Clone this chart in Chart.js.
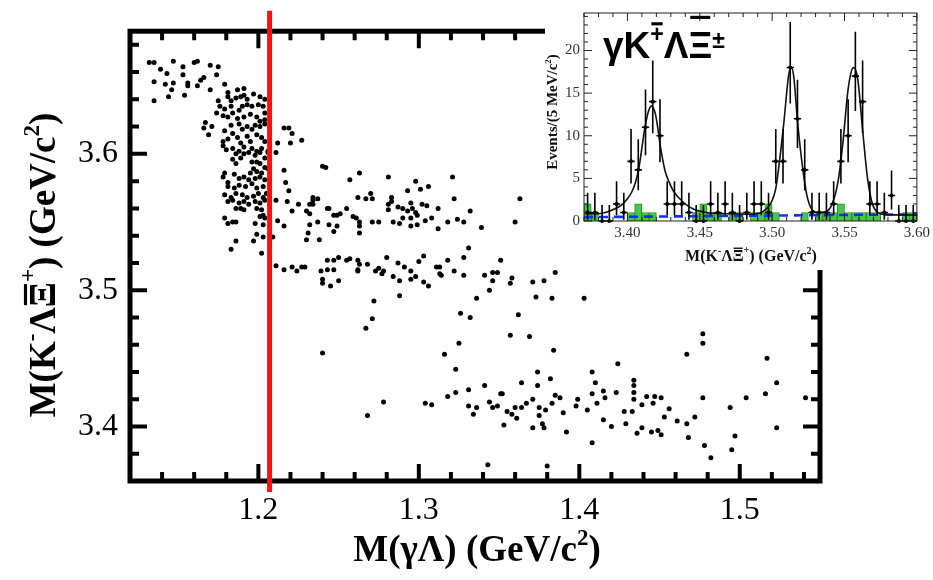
<!DOCTYPE html>
<html>
<head>
<meta charset="utf-8">
<script src="https://cdn.jsdelivr.net/npm/chart.js@4.4.0/dist/chart.umd.min.js"></script>
<style>
  body { margin: 0; background: #fff; }
  #wrap { position: relative; width: 933px; height: 580px; overflow: hidden; }
  #main { position: absolute; left: 0; top: 0; }
  #inset { position: absolute; left: 545px; top: 0; background: #fff; }
</style>
</head>
<body>
<div id="wrap">
  <canvas id="main" width="933" height="580"></canvas>
  <canvas id="inset" width="388" height="270"></canvas>
</div>
<script>
// ---- main scatter: M(gamma Lambda) vs M(K- Lambda Xibar+) ----
const xTickValues = [1.2, 1.3, 1.4, 1.5];
const xTickLabels = ['1.2', '1.3', '1.4', '1.5'];
const yTickValues = [3.4, 3.5, 3.6];
const yTickLabels = ['3.4', '3.5', '3.6'];
const cutValue = 1.207;   // red vertical cut line

const topArc = [[1.132,3.667],[1.135,3.667],[1.147,3.668],[1.139,3.662],[1.143,3.659],[1.153,3.664],[1.160,3.667],[1.162,3.668],[1.170,3.665],[1.175,3.664],[1.135,3.653],[1.142,3.651],[1.147,3.652],[1.153,3.658],[1.156,3.652],[1.156,3.650],[1.146,3.647],[1.144,3.642],[1.135,3.639],[1.154,3.643],[1.162,3.650],[1.164,3.654],[1.166,3.656],[1.170,3.647],[1.174,3.658],[1.179,3.651],[1.181,3.645],[1.187,3.647],[1.191,3.648]];

const cluster = [[1.175,3.639],[1.181,3.642],[1.183,3.639],[1.186,3.641],[1.189,3.642],[1.191,3.643],[1.193,3.640],[1.197,3.644],[1.201,3.642],[1.204,3.640],
[1.176,3.635],[1.174,3.630],[1.179,3.633],[1.183,3.635],[1.184,3.630],[1.188,3.632],[1.190,3.635],[1.193,3.636],[1.196,3.635],[1.200,3.636],[1.203,3.635],[1.204,3.630],
[1.178,3.628],[1.181,3.627],[1.187,3.626],[1.191,3.627],[1.195,3.629],[1.199,3.627],[1.201,3.624],[1.204,3.625],
[1.167,3.623],[1.166,3.619],[1.171,3.620],[1.169,3.614],[1.179,3.617],[1.183,3.621],[1.184,3.615],[1.188,3.622],[1.190,3.618],[1.193,3.620],[1.196,3.618],[1.198,3.621],[1.201,3.620],[1.204,3.622],
[1.178,3.609],[1.181,3.611],[1.187,3.612],[1.189,3.608],[1.193,3.613],[1.195,3.609],[1.199,3.614],[1.202,3.612],[1.204,3.609],
[1.178,3.606],[1.180,3.603],[1.184,3.604],[1.188,3.602],[1.191,3.605],[1.196,3.604],[1.199,3.602],[1.202,3.604],[1.206,3.602],
[1.186,3.600],[1.191,3.600],[1.194,3.601],[1.198,3.599],[1.201,3.601],[1.204,3.597],[1.184,3.596],[1.189,3.597],[1.186,3.593],[1.196,3.594],[1.199,3.594],[1.201,3.593],[1.204,3.590],[1.197,3.589],[1.199,3.587],[1.195,3.586],[1.202,3.586],[1.206,3.589],
[1.179,3.586],[1.178,3.583],[1.181,3.579],[1.185,3.585],[1.188,3.582],[1.191,3.583],[1.194,3.581],[1.198,3.582],[1.201,3.583],[1.204,3.581],
[1.181,3.576],[1.185,3.575],[1.188,3.577],[1.192,3.576],[1.196,3.578],[1.199,3.575],[1.203,3.576],
[1.179,3.570],[1.183,3.568],[1.186,3.571],[1.190,3.570],[1.193,3.568],[1.197,3.569],[1.200,3.571],[1.203,3.568],[1.205,3.571],
[1.181,3.565],[1.184,3.566],[1.188,3.564],[1.191,3.565],[1.194,3.563],[1.198,3.565],[1.201,3.564],[1.204,3.566],
[1.186,3.560],[1.189,3.560],[1.191,3.559],[1.199,3.560],[1.202,3.559],[1.203,3.555],[1.201,3.554],[1.204,3.553],[1.179,3.553],[1.181,3.549],[1.184,3.550],[1.186,3.550],[1.198,3.549],[1.203,3.548],[1.199,3.541],[1.186,3.536],[1.197,3.536],[1.203,3.539],[1.183,3.530],[1.202,3.527],
[1.216,3.619],[1.219,3.619],[1.221,3.615],[1.227,3.610],[1.220,3.608],[1.212,3.608],[1.211,3.601],[1.206,3.601],[1.216,3.588],[1.217,3.579],[1.219,3.573],[1.218,3.565],[1.211,3.566],[1.221,3.558],[1.225,3.563],[1.212,3.551],[1.216,3.547],[1.209,3.539]];

const upperBand = [[1.240,3.591],[1.242,3.590],[1.263,3.586],[1.257,3.581],[1.281,3.583],[1.321,3.583],[1.298,3.580],[1.293,3.573],[1.301,3.574],[1.306,3.576],[1.270,3.571],[1.262,3.568],[1.267,3.567],[1.271,3.567],[1.283,3.568],[1.283,3.565],[1.281,3.563],[1.234,3.568],[1.234,3.566],[1.237,3.567],[1.232,3.563],[1.234,3.563],[1.322,3.567],[1.243,3.560],[1.244,3.560],[1.255,3.560],[1.251,3.556],[1.249,3.555],[1.247,3.555],[1.287,3.561],[1.290,3.560],[1.295,3.564],[1.296,3.560],[1.293,3.558],[1.302,3.563],[1.305,3.562],[1.312,3.560],[1.281,3.559],[1.230,3.558],[1.232,3.556],[1.259,3.554],[1.261,3.553],[1.298,3.557],[1.299,3.555],[1.295,3.553],[1.290,3.553],[1.308,3.553],[1.304,3.551],[1.332,3.558],[1.324,3.552],[1.328,3.550],[1.318,3.550],[1.232,3.548],[1.237,3.550],[1.244,3.548],[1.249,3.547],[1.247,3.543],[1.263,3.550],[1.263,3.547],[1.271,3.550],[1.275,3.550],[1.284,3.550],[1.288,3.549],[1.295,3.547],[1.299,3.548],[1.312,3.545],[1.339,3.546],[1.363,3.567],[1.360,3.550],[1.263,3.542],[1.231,3.542],[1.230,3.537],[1.238,3.537]];

const lowerBand = [[1.211,3.518],[1.216,3.515],[1.221,3.517],[1.224,3.514],[1.229,3.517],[1.227,3.517],[1.243,3.522],[1.247,3.522],[1.250,3.524],[1.255,3.522],[1.257,3.523],[1.262,3.522],[1.263,3.519],[1.268,3.519],[1.280,3.524],[1.287,3.520],[1.291,3.517],[1.300,3.521],[1.303,3.525],[1.311,3.517],[1.313,3.517],[1.318,3.522],[1.328,3.524],[1.331,3.531],[1.239,3.514],[1.243,3.515],[1.247,3.515],[1.262,3.515],[1.262,3.514],[1.273,3.514],[1.275,3.516],[1.278,3.514],[1.277,3.512],[1.284,3.510],[1.288,3.507],[1.295,3.514],[1.298,3.510],[1.295,3.508],[1.313,3.512],[1.314,3.511],[1.322,3.514],[1.328,3.511],[1.303,3.506],[1.306,3.503],[1.240,3.508],[1.240,3.505],[1.245,3.503],[1.250,3.507],[1.341,3.511],[1.346,3.513],[1.349,3.513],[1.346,3.507],[1.351,3.522],[1.358,3.509],[1.357,3.505],[1.371,3.506],[1.378,3.507],[1.385,3.513],[1.344,3.500],[1.336,3.494],[1.373,3.495],[1.383,3.494],[1.272,3.492],[1.288,3.496]];

const scattered = [[1.403,3.494],[1.326,3.483],[1.332,3.480],[1.362,3.482],[1.325,3.461],[1.357,3.467],[1.369,3.466],[1.384,3.456],[1.316,3.453],[1.323,3.442],[1.424,3.446],[1.467,3.453],[1.477,3.468],[1.477,3.461],[1.517,3.450],[1.523,3.432],[1.271,3.479],[1.267,3.472],[1.240,3.454],[1.268,3.408],[1.278,3.418],[1.308,3.416]];

const lowBand = [[1.304,3.417],[1.318,3.422],[1.323,3.425],[1.331,3.427],[1.331,3.415],[1.334,3.409],[1.336,3.414],[1.341,3.430],[1.344,3.418],[1.346,3.414],[1.349,3.415],[1.351,3.424],[1.352,3.424],[1.353,3.401],[1.355,3.411],[1.358,3.409],[1.360,3.414],[1.361,3.406],[1.364,3.414],[1.364,3.432],[1.367,3.417],[1.371,3.420],[1.371,3.399],[1.374,3.440],[1.374,3.430],[1.375,3.414],[1.375,3.408],[1.377,3.402],[1.378,3.399],[1.379,3.412],[1.382,3.435],[1.383,3.417],[1.385,3.423],[1.388,3.421],[1.390,3.410],[1.392,3.396],[1.398,3.415],[1.399,3.420],[1.405,3.412],[1.408,3.424],[1.408,3.388],[1.408,3.440],[1.410,3.432],[1.411,3.417],[1.415,3.405],[1.415,3.426],[1.416,3.421],[1.420,3.400],[1.423,3.425],[1.428,3.411],[1.429,3.402],[1.433,3.411],[1.434,3.434],[1.434,3.430],[1.434,3.425],[1.434,3.420],[1.436,3.395],[1.439,3.399],[1.439,3.416],[1.442,3.422],[1.445,3.396],[1.446,3.417],[1.447,3.422],[1.449,3.397],[1.451,3.421],[1.451,3.394],[1.453,3.407],[1.456,3.413],[1.461,3.404],[1.467,3.402],[1.468,3.392],[1.472,3.407],[1.477,3.421],[1.478,3.386],[1.482,3.377],[1.494,3.414],[1.495,3.383],[1.497,3.393],[1.504,3.421],[1.516,3.424],[1.523,3.399],[1.541,3.421],[1.343,3.372],[1.380,3.371]];

// ---- inset: M(K- Lambda Xibar+) distribution ----
const binCenters = [3.3725,3.3775,3.3825,3.3875,3.3925,3.3975,3.4025,3.4075,3.4125,3.4175,3.4225,3.4275,3.4325,3.4375,3.4425,3.4475,3.4525,3.4575,3.4625,3.4675,3.4725,3.4775,3.4825,3.4875,3.4925,3.4975,3.5025,3.5075,3.5125,3.5175,3.5225,3.5275,3.5325,3.5375,3.5425,3.5475,3.5525,3.5575,3.5625,3.5675,3.5725,3.5775,3.5825,3.5875,3.5925,3.5975];
const dataCounts = [1,1,0,0,2,1,7,6,11,14,10,2,2,2,1,0,0,2,1,2,1,0,1,2,2,1,7,7,18,12,6,1,1,1,2,7,10,17,14,2,2,1,3,0,0,0];
const bkgCounts  = [2,1,0,0,0,0,1,2,1,1,0,0,0,0,0,1,2,1,1,0,1,1,0,1,1,2,1,0,0,0,1,0,1,1,1,2,1,1,1,1,1,0,0,0,1,1];
const fitX = [3.371,3.380,3.386,3.391,3.396,3.400,3.403,3.4057,3.408,3.4102,3.412,3.4141,3.4155,3.4168,3.418,3.4193,3.421,3.4227,3.4245,3.4261,3.429,3.4318,3.4386,3.4455,3.4545,3.470,3.485,3.4932,3.497,3.500,3.5025,3.5045,3.508,3.5114,3.513,3.5148,3.5177,3.5211,3.5239,3.5273,3.5318,3.5364,3.5409,3.5455,3.5489,3.5523,3.5545,3.5561,3.5591,3.5625,3.5659,3.5693,3.5727,3.5795,3.600];
const fitY = [0.85,0.85,1.05,1.4,1.9,2.6,3.4,4.6,6.3,8.8,10.9,12.6,13.3,13.5,13.2,12.6,10.9,8.8,7.1,5.8,4.5,3.5,2.2,1.4,1.0,0.85,0.8,1.05,1.6,2.4,3.8,6.2,11.4,17.1,18.0,17.1,11.4,6.2,3.1,1.4,1.0,1.05,1.8,4.6,9.2,15.2,17.4,18.0,16.7,10.7,5.0,2.0,1.05,0.75,0.7];
const bkgLineX = [3.37, 3.60];
const bkgLineY = [0.45, 0.78];
const insetXTicks = [3.40, 3.45, 3.50, 3.55, 3.60];
const insetXLabels = ['3.40', '3.45', '3.50', '3.55', '3.60'];
const insetYTicks = [0, 5, 10, 15, 20];
const insetYLabels = ['0', '5', '10', '15', '20'];
const binHalf = 0.0025;

// poisson-like asymmetric errors on the counts
function errHi(n) { return n + Math.sqrt(n + 0.75) + 1; }
function errLo(n) { return n > 0 ? n - Math.sqrt(n - 0.25) : 0; }

// draws a text made of pieces {t, sup, bar, gap, rise}
function drawRich(ctx, pieces, x, y, size, family, weight, align, angle) {
    ctx.save();
    ctx.translate(x, y);
    ctx.rotate(angle || 0);
    const fontFor = sup => weight + ' ' + (sup ? Math.round(size * 0.62) : size) + 'px ' + family;
    let total = 0;
    const widths = pieces.map(p => {
        ctx.font = fontFor(p.sup);
        const w = ctx.measureText(p.t).width;
        total += w;
        return w;
    });
    let cx = align === 'center' ? -total / 2 : 0;
    ctx.textBaseline = 'alphabetic';
    ctx.textAlign = 'left';
    pieces.forEach((p, i) => {
        ctx.font = fontFor(p.sup);
        const dy = p.sup ? -size * (p.rise !== undefined ? p.rise : 0.42) : 0;
        ctx.fillText(p.t, cx, dy);
        if (p.bar) {
            const fs = p.sup ? size * 0.62 : size;
            const gap = p.gap !== undefined ? p.gap : 0.12;
            const top = dy - fs * 0.72 - size * gap;
            ctx.fillRect(cx + widths[i] * 0.08, top, widths[i] * 0.84, Math.max(1.2, size * 0.085));
        }
        cx += widths[i];
    });
    ctx.restore();
}

// frame with inward ticks on all four sides
function framePlugin(o) {
    return {
        id: 'frame',
        afterDraw(chart) {
            const { ctx, chartArea: a, scales: { x, y } } = chart;
            ctx.save();
            ctx.strokeStyle = o.color;
            ctx.lineWidth = o.frameWidth;
            ctx.strokeRect(a.left, a.top, a.right - a.left, a.bottom - a.top);
            ctx.lineWidth = o.tickWidth;
            ctx.beginPath();
            const each = (scale, minor, major, fn) => {
                const k0 = Math.ceil(scale.min / minor - 1e-6), k1 = Math.floor(scale.max / minor + 1e-6);
                for (let k = k0; k <= k1; k++) {
                    const v = k * minor;
                    const r = v / major;
                    const isMajor = Math.abs(r - Math.round(r)) < 1e-6;
                    fn(scale.getPixelForValue(v), isMajor ? o.majorLen : o.minorLen);
                }
            };
            each(x, o.xMinor, o.xMajor, (p, len) => {
                ctx.moveTo(p, a.bottom); ctx.lineTo(p, a.bottom - len);
                ctx.moveTo(p, a.top); ctx.lineTo(p, a.top + len);
            });
            each(y, o.yMinor, o.yMajor, (p, len) => {
                ctx.moveTo(a.left, p); ctx.lineTo(a.left + len, p);
                ctx.moveTo(a.right, p); ctx.lineTo(a.right - len, p);
            });
            ctx.stroke();
            ctx.restore();
        }
    };
}

const cutPlugin = {
    id: 'cut',
    afterDraw(chart) {
        const { ctx, scales: { x, y } } = chart;
        const px = x.getPixelForValue(cutValue);
        ctx.save();
        ctx.strokeStyle = '#f01414';
        ctx.lineWidth = 5;
        ctx.beginPath();
        ctx.moveTo(px, y.getPixelForValue(3.705));
        ctx.lineTo(px, y.getPixelForValue(3.352));
        ctx.stroke();
        ctx.restore();
    }
};

const mainTitles = {
    id: 'mainTitles',
    afterDraw(chart) {
        const ctx = chart.ctx;
        ctx.save();
        ctx.fillStyle = '#000';
        drawRich(ctx, [{ t: 'M(γΛ) (GeV/c' }, { t: '2', sup: true }, { t: ')' }],
            477, 561, 37, '"Liberation Serif"', 'bold', 'center', 0);
        drawRich(ctx, [{ t: 'M(K' }, { t: '-', sup: true }, { t: 'Λ' }, { t: 'Ξ', bar: true }, { t: '+', sup: true, rise: 0.55 },
            { t: ') (GeV/c' }, { t: '2', sup: true }, { t: ')' }],
            55, 265, 37, '"Liberation Serif"', 'bold', 'center', -Math.PI / 2);
        ctx.restore();
    }
};

const allPoints = [].concat(topArc, cluster, upperBand, lowerBand, scattered, lowBand);

new Chart(document.getElementById('main'), {
    type: 'scatter',
    data: {
        datasets: [{
            data: allPoints.map(p => ({ x: p[0], y: p[1] })),
            backgroundColor: '#000',
            borderWidth: 0,
            pointRadius: 2.5,
            pointHoverRadius: 2.5
        }]
    },
    options: {
        responsive: false,
        animation: false,
        events: [],
        layout: { padding: { top: 22, right: 113, left: 0, bottom: 0 } },
        plugins: { legend: { display: false }, tooltip: { enabled: false } },
        scales: {
            x: {
                type: 'linear', min: 1.12, max: 1.55,
                grid: { display: false, drawTicks: false },
                border: { display: false },
                afterBuildTicks: s => { s.ticks = xTickValues.map(v => ({ value: v })); },
                afterFit: s => { s.height = 99; },
                ticks: {
                    padding: 10, color: '#000', maxRotation: 0, autoSkip: false,
                    font: { family: '"Liberation Serif"', size: 32 },
                    callback: v => xTickLabels[xTickValues.indexOf(v)]
                }
            },
            y: {
                type: 'linear', min: 3.36, max: 3.69,
                grid: { display: false, drawTicks: false },
                border: { display: false },
                afterBuildTicks: s => { s.ticks = yTickValues.map(v => ({ value: v })); },
                afterFit: s => { s.width = 130; },
                ticks: {
                    padding: 12, color: '#000', autoSkip: false,
                    font: { family: '"Liberation Serif"', size: 32 },
                    callback: v => yTickLabels[yTickValues.indexOf(v)]
                }
            }
        }
    },
    plugins: [framePlugin({ color: '#000', frameWidth: 5, tickWidth: 4, majorLen: 17, minorLen: 9,
        xMinor: 0.02, xMajor: 0.1, yMinor: 0.02, yMajor: 0.1 }), cutPlugin, mainTitles]
});

// ---- inset ----
const errorBars = {
    id: 'errorBars',
    afterDatasetsDraw(chart) {
        const { ctx, scales: { x, y } } = chart;
        ctx.save();
        ctx.strokeStyle = '#000';
        ctx.lineWidth = 1.6;
        ctx.beginPath();
        binCenters.forEach((c, i) => {
            const n = dataCounts[i];
            const px = x.getPixelForValue(c);
            ctx.moveTo(px, y.getPixelForValue(errLo(n)));
            ctx.lineTo(px, y.getPixelForValue(errHi(n)));
            const py = y.getPixelForValue(n);
            ctx.moveTo(x.getPixelForValue(c - binHalf), py);
            ctx.lineTo(x.getPixelForValue(c + binHalf), py);
        });
        ctx.stroke();
        ctx.restore();
    }
};

const insetTitles = {
    id: 'insetTitles',
    afterDraw(chart) {
        const ctx = chart.ctx;
        ctx.save();
        ctx.fillStyle = '#111';
        drawRich(ctx, [{ t: 'M(K' }, { t: '-', sup: true }, { t: 'Λ' }, { t: 'Ξ', bar: true }, { t: '+', sup: true, rise: 0.5 },
            { t: ') (GeV/c' }, { t: '2', sup: true }, { t: ')' }],
            206, 261, 16, '"Liberation Serif"', 'bold', 'center', 0);
        drawRich(ctx, [{ t: 'Events/(5 MeV/c' }, { t: '2', sup: true }, { t: ')' }],
            12, 112, 15, '"Liberation Serif"', 'bold', 'center', -Math.PI / 2);
        ctx.fillStyle = '#000';
        drawRich(ctx, [{ t: 'γK' }, { t: '+', sup: true, bar: true, gap: 0.1 }, { t: 'Λ' }, { t: 'Ξ', bar: true, gap: 0.42 },
            { t: '±', sup: true, rise: 0.28 }],
            58, 58, 37, '"Liberation Sans"', 'bold', 'left', 0);
        ctx.restore();
    }
};

new Chart(document.getElementById('inset'), {
    type: 'bar',
    data: {
        datasets: [
            {
                type: 'scatter', order: 0,
                data: binCenters.map((c, i) => ({ x: c, y: dataCounts[i] })),
                backgroundColor: '#000', borderWidth: 0, pointRadius: 2, pointHoverRadius: 2,
                clip: 6
            },
            {
                type: 'line', order: 1,
                data: fitX.map((v, i) => ({ x: v, y: fitY[i] })),
                borderColor: '#111', borderWidth: 1.6, pointRadius: 0,
                cubicInterpolationMode: 'monotone', fill: false
            },
            {
                type: 'line', order: 2,
                data: bkgLineX.map((v, i) => ({ x: v, y: bkgLineY[i] })),
                borderColor: '#1030ff', borderWidth: 2.6, borderDash: [9, 6], pointRadius: 0, fill: false
            },
            {
                type: 'bar', order: 3,
                data: binCenters.map((c, i) => ({ x: c, y: bkgCounts[i] })).filter(d => d.y > 0),
                backgroundColor: '#43c943', borderColor: '#2b8f2b', borderWidth: 1,
                barPercentage: 1, categoryPercentage: 1, grouped: false
            }
        ]
    },
    options: {
        responsive: false,
        animation: false,
        events: [],
        layout: { padding: { top: 5, right: 14, left: 0, bottom: 0 } },
        plugins: { legend: { display: false }, tooltip: { enabled: false } },
        scales: {
            x: {
                type: 'linear', min: 3.37, max: 3.60, offset: false,
                grid: { display: false, drawTicks: false },
                border: { display: false },
                afterBuildTicks: s => { s.ticks = insetXTicks.map(v => ({ value: v })); },
                afterFit: s => { s.height = 49; },
                ticks: {
                    padding: 3, color: '#333', maxRotation: 0, autoSkip: false,
                    font: { family: '"Liberation Serif"', size: 15 },
                    callback: v => insetXLabels[insetXTicks.indexOf(v)]
                }
            },
            y: {
                type: 'linear', min: 0, max: 24.4,
                grid: { display: false, drawTicks: false },
                border: { display: false },
                afterBuildTicks: s => { s.ticks = insetYTicks.map(v => ({ value: v })); },
                afterFit: s => { s.width = 39; },
                ticks: {
                    padding: 4, color: '#333', autoSkip: false,
                    font: { family: '"Liberation Serif"', size: 15 },
                    callback: v => insetYLabels[insetYTicks.indexOf(v)]
                }
            }
        }
    },
    plugins: [framePlugin({ color: '#222', frameWidth: 1, tickWidth: 1, majorLen: 8, minorLen: 4,
        xMinor: 0.01, xMajor: 0.05, yMinor: 1, yMajor: 5 }), errorBars, insetTitles]
});
</script>
</body>
</html>
